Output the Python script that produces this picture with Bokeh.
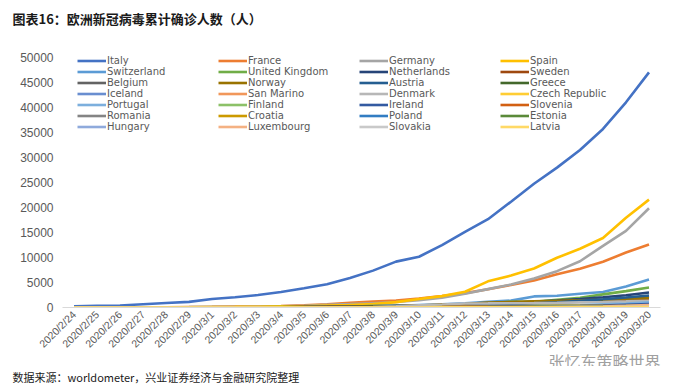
from bokeh.plotting import figure
from bokeh.layouts import column
from bokeh.models import (FactorRange, Range1d, Legend, LegendItem, Label, Title,
                          FixedTicker, NumeralTickFormatter)
from bokeh.embed import file_html
from bokeh.resources import INLINE
from math import pi

dates = ["2020/2/24", "2020/2/25", "2020/2/26", "2020/2/27", "2020/2/28", "2020/2/29",
         "2020/3/1", "2020/3/2", "2020/3/3", "2020/3/4", "2020/3/5", "2020/3/6", "2020/3/7",
         "2020/3/8", "2020/3/9", "2020/3/10", "2020/3/11", "2020/3/12", "2020/3/13",
         "2020/3/14", "2020/3/15", "2020/3/16", "2020/3/17", "2020/3/18", "2020/3/19",
         "2020/3/20"]

countries = ["Italy", "France", "Germany", "Spain", "Switzerland", "United Kingdom",
             "Netherlands", "Sweden", "Belgium", "Norway", "Austria", "Greece", "Iceland",
             "San Marino", "Denmark", "Czech Republic", "Portugal", "Finland", "Ireland",
             "Slovenia", "Romania", "Croatia", "Poland", "Estonia", "Hungary", "Luxembourg",
             "Slovakia", "Latvia"]

italy = [229, 322, 400, 650, 888, 1128, 1694, 2036, 2502, 3089, 3858, 4636, 5883, 7375, 9172, 10149, 12462, 15113, 17660, 21157, 24747, 27980, 31506, 35713, 41035, 47021]
france = [12, 17, 18, 38, 57, 100, 130, 191, 212, 285, 423, 653, 949, 1209, 1412, 1784, 2281, 2876, 3661, 4499, 5423, 6633, 7730, 9134, 10995, 12612]
germany = [16, 18, 21, 26, 53, 66, 117, 150, 188, 240, 349, 534, 684, 847, 1112, 1460, 1939, 2745, 3675, 4585, 5795, 7272, 9257, 12327, 15320, 19848]
spain = [2, 6, 13, 15, 32, 45, 84, 120, 165, 222, 259, 400, 500, 673, 1073, 1695, 2277, 3146, 5232, 6391, 7798, 9942, 11748, 13910, 17963, 21571]
switzerland = [0, 1, 1, 1, 8, 15, 18, 27, 37, 56, 90, 181, 214, 281, 332, 491, 645, 858, 1139, 1375, 2217, 2353, 2742, 3115, 4222, 5615]
united_kingdom = [13, 13, 13, 15, 20, 23, 36, 40, 51, 85, 115, 163, 206, 273, 321, 373, 456, 590, 798, 1140, 1140, 1543, 1950, 2626, 3269, 3983]
netherlands = [0, 0, 0, 1, 1, 6, 10, 18, 24, 38, 82, 128, 188, 265, 321, 382, 503, 614, 804, 959, 1135, 1413, 1705, 2051, 2460, 2994]
sweden = [1, 1, 1, 7, 12, 13, 14, 15, 30, 52, 94, 137, 161, 203, 248, 355, 500, 599, 814, 961, 1022, 1103, 1190, 1279, 1439, 1639]
belgium = [1, 1, 1, 1, 1, 1, 2, 8, 13, 23, 50, 109, 169, 200, 239, 267, 314, 314, 559, 689, 886, 1058, 1243, 1486, 1795, 2257]
norway = [0, 0, 1, 1, 6, 15, 19, 25, 32, 56, 87, 108, 147, 176, 205, 400, 598, 702, 996, 1090, 1221, 1333, 1463, 1550, 1746, 1914]
austria = [0, 2, 2, 3, 3, 9, 10, 18, 24, 29, 41, 55, 79, 104, 131, 182, 246, 302, 504, 655, 860, 1018, 1332, 1646, 2013, 2388]
greece = [0, 0, 1, 3, 4, 7, 7, 7, 7, 9, 31, 45, 46, 73, 73, 89, 99, 99, 190, 228, 331, 331, 387, 418, 418, 495]
iceland = [0, 0, 0, 0, 1, 1, 3, 6, 11, 26, 34, 43, 50, 50, 58, 69, 85, 103, 134, 156, 171, 180, 220, 250, 330, 409]
san_marino = [0, 0, 0, 1, 1, 1, 1, 8, 10, 16, 21, 21, 23, 36, 36, 51, 62, 69, 80, 80, 101, 109, 109, 119, 119, 144]
denmark = [0, 0, 0, 1, 1, 3, 4, 4, 6, 10, 15, 23, 35, 90, 262, 442, 615, 801, 827, 864, 875, 933, 1024, 1115, 1225, 1337]
czech_republic = [0, 0, 0, 0, 0, 0, 3, 3, 5, 5, 8, 19, 26, 32, 38, 63, 94, 116, 141, 189, 253, 298, 396, 464, 694, 833]
portugal = [0, 0, 0, 0, 0, 0, 0, 2, 4, 6, 9, 13, 21, 30, 39, 41, 59, 78, 112, 169, 245, 331, 448, 642, 785, 1020]
finland = [1, 1, 2, 2, 2, 3, 6, 6, 7, 12, 15, 19, 23, 30, 40, 59, 59, 155, 225, 244, 277, 321, 336, 400, 450, 521]
ireland = [0, 0, 0, 0, 0, 1, 1, 1, 2, 6, 13, 18, 19, 21, 21, 34, 43, 70, 90, 129, 169, 223, 292, 366, 557, 683]
slovenia = [0, 0, 0, 0, 0, 0, 0, 0, 0, 1, 6, 12, 16, 23, 31, 57, 89, 141, 181, 219, 253, 275, 275, 286, 341, 383]
romania = [0, 0, 1, 1, 3, 3, 3, 3, 4, 4, 6, 9, 9, 15, 15, 25, 45, 49, 89, 123, 131, 158, 184, 246, 277, 308]
croatia = [0, 1, 3, 3, 5, 7, 7, 8, 9, 10, 11, 12, 12, 12, 12, 12, 17, 32, 38, 49, 57, 65, 81, 105, 128, 206]
poland = [0, 0, 0, 0, 0, 0, 0, 0, 0, 1, 1, 5, 6, 11, 16, 22, 31, 51, 68, 104, 125, 177, 238, 251, 355, 425]
estonia = [0, 0, 0, 1, 1, 1, 1, 1, 2, 3, 10, 10, 10, 10, 10, 13, 16, 27, 79, 115, 171, 205, 225, 258, 267, 283]
hungary = [0, 0, 0, 0, 0, 0, 0, 0, 0, 2, 2, 4, 7, 9, 9, 12, 13, 16, 19, 30, 32, 39, 50, 58, 73, 85]
luxembourg = [0, 0, 0, 0, 0, 1, 1, 1, 1, 1, 2, 3, 4, 5, 5, 7, 7, 26, 34, 51, 77, 81, 140, 203, 335, 484]
slovakia = [0, 0, 0, 0, 0, 0, 0, 0, 0, 0, 0, 1, 3, 5, 7, 7, 10, 21, 32, 44, 54, 72, 97, 105, 123, 137]
latvia = [0, 0, 0, 0, 0, 0, 1, 1, 1, 1, 1, 1, 2, 6, 8, 10, 16, 17, 26, 30, 34, 49, 60, 71, 86, 111]

series = [italy, france, germany, spain, switzerland, united_kingdom, netherlands, sweden,
          belgium, norway, austria, greece, iceland, san_marino, denmark, czech_republic,
          portugal, finland, ireland, slovenia, romania, croatia, poland, estonia, hungary,
          luxembourg, slovakia, latvia]

colors = ["#4472C4", "#ED7D31", "#A5A5A5", "#FFC000", "#5B9BD5", "#70AD47", "#264478",
          "#9E480E", "#636363", "#997300", "#255E91", "#43682B", "#698ED0", "#F1975A",
          "#B7B7B7", "#FFCD33", "#7CAFDD", "#8CC168", "#335AA1", "#D26012", "#848484",
          "#CC9A00", "#327DC2", "#5A8A39", "#8FAADC", "#F4B183", "#C9C9C9", "#FFD966"]

y_ticks = [0, 5000, 10000, 15000, 20000, 25000, 30000, 35000, 40000, 45000, 50000]

title_text = "图表16：欧洲新冠病毒累计确诊人数（人）"
source_text = "数据来源：worldometer，兴业证券经济与金融研究院整理"
watermark_text = "张忆东策略世界"

W = 682
GREY = "#595959"


def decor_fig(h, w=W, fill="white", margin=(0, 0, 0, 0)):
    # pixel-like coordinates, y measured upward from the bottom of this strip
    f = figure(width=w, height=h, x_range=Range1d(0, w), y_range=Range1d(0, h),
               x_axis_type=None, y_axis_type=None, output_backend="svg",
               toolbar_location=None, min_border=0, frame_align=False, margin=margin)
    f.outline_line_color = None
    f.grid.visible = False
    f.background_fill_color = fill
    f.border_fill_color = fill
    return f


# ---- header: title, then a thin black rule strip ----
TH = 30
top = decor_fig(TH)
top.add_layout(Label(x=12, y=TH - 18, text=title_text, text_font="Noto Sans CJK SC",
                     text_font_style="bold", text_font_size="13px", text_color="#1a1a1a",
                     text_baseline="middle"))
top_rule = decor_fig(2, w=667, fill="black", margin=(0, 0, 0, 5))

# ---- main chart ----
p = figure(width=W, height=334, x_range=FactorRange(factors=dates, range_padding=0),
           y_range=Range1d(0, 50600), output_backend="svg", toolbar_location=None,
           min_border_left=62, min_border_right=22, min_border_top=22, min_border_bottom=59,
           frame_align=False)
p.outline_line_color = None
p.xgrid.grid_line_color = None
p.ygrid.grid_line_color = None

p.yaxis.ticker = FixedTicker(ticks=y_ticks)
p.yaxis.formatter = NumeralTickFormatter(format="0")
p.yaxis.axis_line_color = None
p.yaxis.major_tick_line_color = None
p.yaxis.major_tick_out = 0
p.yaxis.minor_tick_line_color = None
p.yaxis.minor_tick_out = 0
p.yaxis.major_label_text_color = GREY
p.yaxis.major_label_text_font = "Liberation Sans"
p.yaxis.major_label_text_font_size = "12px"
p.yaxis.major_label_standoff = 9

p.xaxis.axis_line_color = "#D9D9D9"
p.xaxis.major_tick_line_color = None
p.xaxis.major_tick_out = 0
p.xaxis.minor_tick_line_color = None
p.xaxis.minor_tick_out = 0
p.xaxis.major_label_orientation = pi / 4
p.xaxis.major_label_text_color = GREY
p.xaxis.major_label_text_font = "Liberation Sans"
p.xaxis.major_label_text_font_size = "10.5px"
p.xaxis.major_label_standoff = 5

# watermark as a right-aligned title under the axis, pulled up over the tick labels
p.add_layout(Title(text=watermark_text, align="right", standoff=-30,
                   text_font="Noto Sans CJK SC", text_font_style="normal",
                   text_font_size="16px", text_color="#a0a0a0"), "below")

items = []
for name, vals, c in zip(countries, series, colors):
    r = p.line(x=dates, y=vals, line_color=c, line_width=2.6)
    items.append(LegendItem(label=name, renderers=[r]))

legend = Legend(items=items, orientation="horizontal", ncols=4, location=(15, 175),
                padding=0, margin=0, spacing=0, glyph_width=29, glyph_height=11,
                label_height=11, label_width=111, label_standoff=1,
                label_text_font="DejaVu Sans", label_text_font_size="10px",
                label_text_color=GREY, border_line_color=None, background_fill_alpha=0)
p.add_layout(legend, "center")

# ---- footer: grey rule strip, then source ----
bot_rule = decor_fig(2, w=665, fill="#8c8c8c", margin=(0, 0, 0, 5))
FH = 17
bot = decor_fig(FH)
bot.add_layout(Label(x=12, y=FH - 8, text=source_text, text_font="Noto Sans CJK SC",
                     text_font_size="11px", text_color="#1a1a1a", text_baseline="middle"))

layout = column(top, top_rule, p, bot_rule, bot, spacing=0)
open("out.html", "w").write(file_html(layout, INLINE))
